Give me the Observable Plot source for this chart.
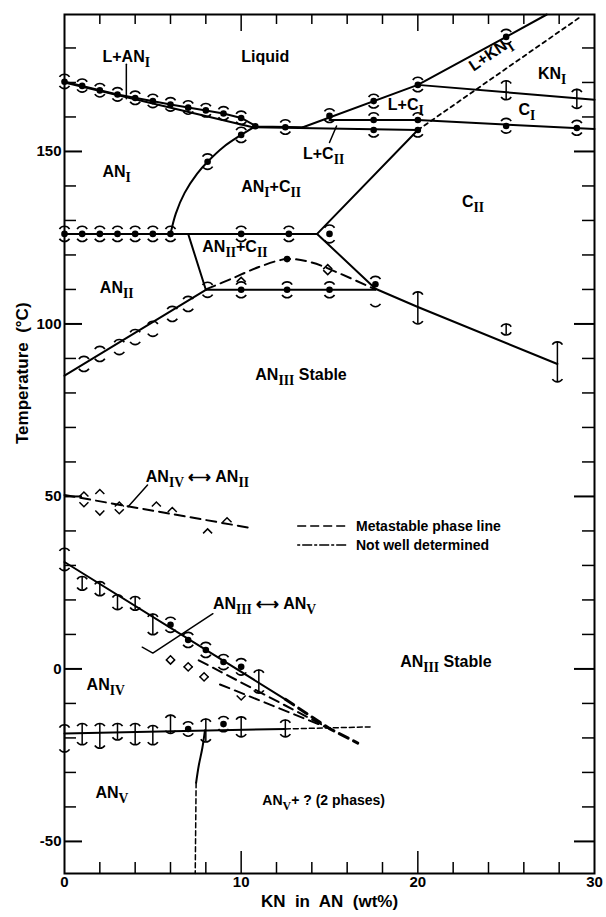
<!DOCTYPE html>
<html><head><meta charset="utf-8">
<script src="https://cdn.jsdelivr.net/npm/d3@7"></script>
<script src="https://cdn.jsdelivr.net/npm/@observablehq/plot@0.6"></script>
<style>body{margin:0;background:#fff}</style>
</head><body><div id="chart"></div>
<script>
// ---------- axes ----------
const xTicksMinor = [2,4,6,8,12,14,16,18,22,24,26,28];
const xTicksMajor = [10,20];
const xTickLabels = [0,10,20,30];
const yTicksMinor = [-40,-30,-20,-10,10,20,30,40,60,70,80,90,110,120,130,140,160,170,180];
const yTicksMajor = [-50,0,50,100,150];
const yTickLabels = [-50,0,50,100,150];
const xTitle = "KN  in  AN  (wt%)";
const yTitle = "Temperature  (°C)";

// ---------- phase boundary lines [KN wt%, °C] ----------
const liquidusLeft = [[0,170.2],[3,166.5],[6,163.6],[9,161],[10,159.7],[10.9,157.2],[13.5,157]];
const liquidusRight = [[13.5,157],[20,169.3],[25,183.2],[27.3,189.7]];
const solidusANI = [[0,170],[10.6,157.1]];
const line157 = [[10.6,157],[20,156.2]];
const lineCI = [[15,159.1],[20,159.1],[30,156.5]];
const lineKN = [[20,169.3],[30,165]];
const line126 = [[0,126.1],[14.3,126.1]];
const boundaryCIIup = [[14.3,126.1],[20,156.2]];
const boundaryCIIdown = [[14.3,126.1],[17.6,110.2],[20,104.9],[27.9,88.4]];
const curveANI_CII = [[6,126.1],[6.3,132],[6.8,138],[7.5,143.5],[8.1,147],[9,151.3],[10,154.8],[10.7,157]];
const boundaryANII_CII = [[7,126.1],[8,109.9]];
const line110 = [[8,109.9],[17.6,109.9]];
const boundaryANII_ANIII = [[0,85],[8,109.9]];
const metaCurveCII = [[8,110],[9.5,113.2],[11,116.5],[12.6,118.8],[14,117.8],[15.5,114.8],[17.6,110]];
const metaANIV_ANII = [[0,50.4],[10.5,40.9]];
const lineANIII_ANV = [[0,31],[12.5,-8.8]];
const metaANIII_ANV = [[12.5,-8.8],[15,-17.3],[16.6,-21.5]];
const metaA = [[7.6,2.5],[15,-17.3]];
const metaB = [[8.8,-4.5],[15,-17.3]];
const lineLow = [[0,-18.7],[12.5,-17.4]];
const lineLowExt = [[12.5,-17.4],[17.3,-16.8]];
const curveVert = [[7.95,-17.8],[7.8,-23],[7.6,-28],[7.45,-33]];
const vertExt = [[7.45,-33],[7.4,-59.3]];
const lineKNdotted = [[20,156.2],[29.2,189]];

// leader lines for labels
const leaderLAN = [[3.5,175.3],[3.5,165.3]];
const leaderLCII = [[15.4,157.4],[15.0,152.6]];
const leaderIVII = [[4.7,53.3],[3.6,47]];
const leaderIIIV = [[4.4,6.3],[5.0,4.6],[8.4,16]];

// ---------- measured points ----------
const dotsFilled = [
 [0,170.2],[1,169],[2,167.7],[3,166.5],[4,165.5],[5,164.6],[6,163.6],[7,162.7],[8,161.9],[9,161],[10,159.7],[10.8,157.3],[12.5,157],
 [8.1,147],[10,154.8],
 [15,160.3],[17.5,164.6],[20,169.3],[25,183.2],
 [17.5,159.1],[17.5,156.2],[20,159.1],[20,156.2],[25,157.4],[29,156.8],
 [0,126.1],[1,126.1],[2,126.1],[3,126.1],[4,126.1],[5,126.1],[6,126.1],[10,126.1],[12.7,126.1],[15,126.1],
 [10,109.9],[12.6,109.9],[15,109.9],[17.6,111.5],
 [12.6,118.8],
 [6,12.8],[7,8.4],[8,5.5],[9,2.0],[10,0.6],
 [7,-17.4],[9,-16]
];
// error caps [x, low, high]
const capsPts = [
 [0,168.2,172.4],[1,167.2,171],[2,165.8,169.7],[3,164.6,168.5],[4,163.6,167.5],[5,162.7,166.6],[6,161.7,165.6],[7,160.8,164.7],[8,160,163.9],[9,159.1,163],[10,157.8,161.7],[12.5,155,159.2],
 [8.1,144.8,149.3],[10,152.6,157],
 [15,158.4,162.4],[17.5,162.6,166.6],[20,167.3,171.5],[25,181.2,185.4],[17.5,154.2,161.2],[20,154.2,161.2],[25,155.3,159.6],[29,154.7,159],
 [0,123.9,128.3],[1,123.9,128.3],[2,123.9,128.3],[3,123.9,128.3],[4,123.9,128.3],[5,123.9,128.3],[6,123.9,128.3],[10,123.9,128.3],[12.7,123.9,128.3],[15,123.5,128.7],
 [10,107.6,112.2],[12.6,107.6,112.2],[15,107.6,112.2],[17.6,105,113.8],
 [1.1,86.2,90.6],[2,89.1,93.5],[3.1,91.1,95.5],[4,94,98.4],[5,96.4,100.8],[6.1,100.7,105.1],[7,103.6,108],[8.1,107.7,112.1],
 [0,28.5,35],[1,22.8,26.8],[2,21.2,25.3],[3,17.2,21.5],[4,17,21],[5,9.9,15.9],[6,10.6,15],[7,6.2,10.6],[8,3.3,7.7],[9,-0.2,4.2],[10,-1.8,3],[11,-7,-0.3],
 [0,-24.1,-16.2],[1,-22,-15.8],[2,-23,-15.8],[3,-20.6,-15.8],[4,-22,-15.8],[5,-22,-16.4],[6,-18.7,-13.4],[7,-19.5,-15.3],[8,-21.2,-14.5],[9,-18.2,-13.8],[10,-19.7,-13.9],[12.5,-19.7,-14.8],
 [20,100,109.3],[25,96.8,100],[27.9,83.2,94.8],[25,165,170.5],[29,162.5,168]
];
// vertical error bars [x, low, high]
const barsPts = [
 [0,28.5,35],[1,22.8,26.8],[2,21.2,25.3],[3,17.2,21.5],[4,17,21],[5,9.9,15.9],[11,-7,-0.3],
 [0,-24.1,-16.2],[1,-22,-15.8],[2,-23,-15.8],[3,-20.6,-15.8],[4,-22,-15.8],[5,-22,-16.4],[6,-18.7,-13.4],[8,-21.2,-14.5],[10,-19.7,-13.9],[12.5,-19.7,-14.8],
 [20,100,109.3],[25,96.8,100],[27.9,83.2,94.8],[25,165,170.5],[29,162.5,168]
];
// open (metastable) markers
const chevUpPts = [[1.1,51.3],[2,52],[3.1,48.4],[5.2,48.4],[6.1,46.8],[8.1,40.6],[9.2,43.8],[6,3.8],[7,1.8],[7.9,-1.1],[10,113.5],[14.9,117.2]];
const chevDownPts = [[1.1,47],[2,44.6],[3.1,45],[6,1.4],[7,-0.6],[7.9,-3.5],[10,-9],[14.9,114.3]];

// ---------- labels [text, x, y] ----------
const regionLabels = [
 ["L+AN_{I}", 2.15, 177.4],
 ["Liquid", 10.0, 177.4],
 ["AN_{I}", 2.15, 144.1],
 ["AN_{I}+C_{II}", 10.0, 139.6],
 ["L+C_{II}", 13.5, 149.3],
 ["L+C_{I}", 18.3, 163.5],
 ["KN_{I}", 26.8, 172.5],
 ["C_{I}", 25.7, 162],
 ["C_{II}", 22.5, 135.4],
 ["AN_{II}+C_{II}", 7.8, 122.2],
 ["AN_{II}", 2.0, 110.6],
 ["AN_{III} Stable", 10.8, 85.1],
 ["AN_{IV} ⟷ AN_{II}", 4.6, 55.6],
 ["AN_{III} ⟷ AN_{V}", 8.4, 19],
 ["AN_{IV}", 1.25, -4.7],
 ["AN_{III} Stable", 19.0, 1.9],
 ["AN_{V}", 1.75, -36]
];
const smallLabels = [["AN_{V}+ ? (2 phases)", 11.2, -38.2]];
const rotatedLabels = [["L+KN_{I}", 24.1, 178.2]];
const legendLabels = ["Metastable phase line", "Not well determined"];
const legendY = [41.4, 35.9];
const legendX = [13.2, 16.0, 16.5];

// ---------- geometry ----------
const W = 606, H = 917, mL = 64, mR = 12, mT = 14, mB = 44;
const xDom = [0, 30], yDom = [-59.3, 189.7];
const kx = (W - mL - mR) / (xDom[1] - xDom[0]);
const ky = (H - mT - mB) / (yDom[1] - yDom[0]);
const tx = p => p / kx, ty = p => p / ky;

// custom symbols
const capTop = {draw(c){ const R = 6, t = 1.0; c.moveTo(-R*Math.sin(t), R - R*Math.cos(t)); c.arc(0, R, R, -Math.PI/2 - t, -Math.PI/2 + t); }};
const capBottom = {draw(c){ const R = 6, t = 1.0; c.moveTo(R*Math.sin(t), -R + R*Math.cos(t)); c.arc(0, -R, R, Math.PI/2 - t, Math.PI/2 + t); }};
const chevUp = {draw(c){ c.moveTo(-4.5, 4.5); c.lineTo(0, 0); c.lineTo(4.5, 4.5); }};
const chevDown = {draw(c){ c.moveTo(-4.5, -4.5); c.lineTo(0, 0); c.lineTo(4.5, -4.5); }};

const ln = (arr, o = {}) => Plot.line(arr, {x: d => d[0], y: d => d[1], stroke: "black", strokeWidth: 2, ...o});
const META = {strokeDasharray: "10,6"};
const NWD = {strokeDasharray: "5,3", strokeWidth: 1.5};
const FONT = "'Liberation Sans', Arial, sans-serif";

const chart = Plot.plot({
  width: W, height: H,
  marginLeft: mL, marginRight: mR, marginTop: mT, marginBottom: mB,
  x: {domain: xDom, axis: null},
  y: {domain: yDom, axis: null},
  style: {fontFamily: FONT, background: "white", color: "black"},
  marks: [
    Plot.frame({stroke: "black", strokeWidth: 2}),
    // ticks (inward)
    Plot.ruleX(xTicksMinor, {x: d => d, y1: yDom[0], y2: yDom[0] + ty(11), strokeWidth: 1.5}),
    Plot.ruleX(xTicksMajor, {x: d => d, y1: yDom[0], y2: yDom[0] + ty(22), strokeWidth: 1.5}),
    Plot.ruleX(xTicksMinor, {x: d => d, y1: yDom[1], y2: yDom[1] - ty(10), strokeWidth: 1.5}),
    Plot.ruleX(xTicksMajor, {x: d => d, y1: yDom[1], y2: yDom[1] - ty(17), strokeWidth: 1.5}),
    Plot.ruleY(yTicksMinor, {y: d => d, x1: xDom[0], x2: xDom[0] + tx(12), strokeWidth: 1.5}),
    Plot.ruleY(yTicksMajor, {y: d => d, x1: xDom[0], x2: xDom[0] + tx(18), strokeWidth: 2}),
    Plot.ruleY(yTicksMinor, {y: d => d, x1: xDom[1], x2: xDom[1] - tx(12), strokeWidth: 1.5}),
    Plot.ruleY(yTicksMajor, {y: d => d, x1: xDom[1], x2: xDom[1] - tx(20), strokeWidth: 2}),
    Plot.text(yTickLabels, {y: d => d, frameAnchor: "left", dx: -3, textAnchor: "end", text: d => String(d), fontSize: 15, fontWeight: "bold"}),
    Plot.text(xTickLabels, {x: d => d, frameAnchor: "bottom", dy: 13, text: d => String(d), fontSize: 15, fontWeight: "bold"}),
    Plot.text([yTitle], {frameAnchor: "left", dx: -42, rotate: -90, text: d => d, fontSize: 17, fontWeight: "bold"}),
    Plot.text([xTitle], {frameAnchor: "bottom", dy: 33, text: d => d, fontSize: 17, fontWeight: "bold"}),
    // solid boundaries
    ln(liquidusLeft), ln(liquidusRight), ln(solidusANI), ln(line157), ln(lineCI), ln(lineKN),
    ln(line126), ln(boundaryCIIup), ln(boundaryCIIdown),
    ln(curveANI_CII, {curve: "catmull-rom"}),
    ln(boundaryANII_CII), ln(line110), ln(boundaryANII_ANIII),
    ln(lineANIII_ANV), ln(lineLow), ln(curveVert, {curve: "catmull-rom"}),
    // metastable
    ln(metaCurveCII, {...META, curve: "catmull-rom"}),
    ln(metaANIV_ANII, META),
    ln(metaANIII_ANV, {...META, strokeWidth: 3}),
    ln(metaA, META), ln(metaB, META),
    // not well determined
    ln(lineLowExt, NWD), ln(vertExt, NWD), ln(lineKNdotted, {strokeDasharray: "4,4", strokeWidth: 1.8}),
    // leaders
    ln(leaderLAN, {strokeWidth: 1.5}), ln(leaderLCII, {strokeWidth: 1.5}), ln(leaderIVII, {strokeWidth: 1.5}), ln(leaderIIIV, {strokeWidth: 1.5}),
    // markers
    Plot.ruleX(barsPts, {x: d => d[0], y1: d => d[1], y2: d => d[2], stroke: "black", strokeWidth: 1.5}),
    Plot.dot(capsPts, {x: d => d[0], y: d => d[2], symbol: capTop, r: 5, fill: "none", stroke: "black", strokeWidth: 1.6}),
    Plot.dot(capsPts, {x: d => d[0], y: d => d[1], symbol: capBottom, r: 5, fill: "none", stroke: "black", strokeWidth: 1.6}),
    Plot.dot(chevUpPts, {x: d => d[0], y: d => d[1], symbol: chevUp, r: 5, fill: "none", stroke: "black", strokeWidth: 1.5}),
    Plot.dot(chevDownPts, {x: d => d[0], y: d => d[1], symbol: chevDown, r: 5, fill: "none", stroke: "black", strokeWidth: 1.5}),
    Plot.dot(dotsFilled, {x: d => d[0], y: d => d[1], r: 3.3, fill: "black", stroke: "none"}),
    // labels
    Plot.text(regionLabels, {x: d => d[1], y: d => d[2], text: d => d[0], textAnchor: "start", fontSize: 16, fontWeight: "bold"}),
    Plot.text(smallLabels, {x: d => d[1], y: d => d[2], text: d => d[0], textAnchor: "start", fontSize: 14, fontWeight: "bold"}),
    Plot.text(rotatedLabels, {x: d => d[1], y: d => d[2], text: d => d[0], rotate: -34, fontSize: 16, fontWeight: "bold"}),
    // legend
    Plot.ruleY([legendY[0]], {y: d => d, x1: legendX[0], x2: legendX[1], strokeWidth: 1.5, strokeDasharray: "9,4"}),
    Plot.ruleY([legendY[1]], {y: d => d, x1: legendX[0], x2: legendX[1], strokeWidth: 1.5, strokeDasharray: "3,2,10,2"}),
    Plot.text(legendLabels, {x: legendX[2], y: (d, i) => legendY[i], text: d => d, textAnchor: "start", fontSize: 14, fontWeight: "bold"})
  ]
});

// subscripts: "_{...}" -> lowered serif roman numerals
chart.querySelectorAll("text").forEach(t => {
  const s = t.textContent;
  if (!s.includes("_{")) return;
  while (t.firstChild) t.removeChild(t.firstChild);
  let shifted = false;
  s.split(/(_\{[^}]*\})/).forEach(p => {
    if (!p) return;
    const ts = document.createElementNS("http://www.w3.org/2000/svg", "tspan");
    if (p.startsWith("_{")) {
      ts.textContent = p.slice(2, -1);
      ts.setAttribute("font-family", "'Liberation Serif', 'DejaVu Serif', serif");
      ts.setAttribute("font-size", "0.85em");
      ts.setAttribute("font-weight", "bold");
      ts.setAttribute("dy", "5");
      shifted = true;
    } else {
      ts.textContent = p;
      if (shifted) { ts.setAttribute("dy", "-5"); shifted = false; }
    }
    t.appendChild(ts);
  });
});
document.getElementById("chart").appendChild(chart);
</script>
</body></html>
